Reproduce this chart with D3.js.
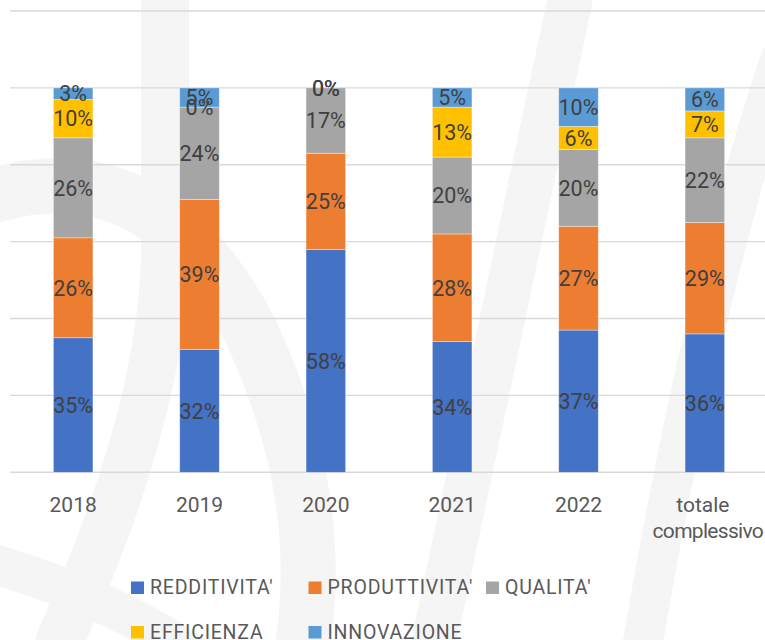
<!DOCTYPE html>
<html>
<head>
<meta charset="utf-8">
<script src="https://cdn.jsdelivr.net/npm/d3@7"></script>
<style>
    body { margin: 0; background: #ffffff; }
    svg { display: block; }
</style>
</head>
<body>
<div id="chart"></div>
<script>
var categories = ['2018', '2019', '2020', '2021', '2022', 'totale complessivo'];
var seriesNames = ["REDDITIVITA'", "PRODUTTIVITA'", "QUALITA'", "EFFICIENZA", "INNOVAZIONE"];
var seriesColors = ['#4472C4', '#ED7D31', '#A5A5A5', '#FFC000', '#5B9BD5'];

// percent share per category, same order as seriesNames
var redditivita  = [35, 32, 58, 34, 37, 36];
var produttivita = [26, 39, 25, 28, 27, 29];
var qualita      = [26, 24, 17, 20, 20, 22];
var efficienza   = [10,  0,  0, 13,  6,  7];
var innovazione  = [ 3,  5,  0,  5, 10,  6];

var yTicks = [0, 20, 40, 60, 80, 100, 120];

var width = 765, height = 640;
var font = 'Roboto, "Open Sans", sans-serif';

var svg = d3.select('#chart').append('svg')
        .attr('width', width)
        .attr('height', height);

// faint watermark behind the plot
var mark = svg.append('g').attr('class', 'watermark')
        .attr('fill', 'none')
        .attr('stroke', '#f5f5f5')
        .attr('stroke-linecap', 'round');
mark.append('path').attr('d', 'M165,0 L165,260 Q160,420 60,640').attr('stroke-width', 48);
mark.append('path').attr('d', 'M-20,200 Q150,140 250,330 Q330,500 300,660').attr('stroke-width', 55);
mark.append('path').attr('d', 'M570,0 L430,660').attr('stroke-width', 45);
mark.append('path').attr('d', 'M780,60 Q700,300 640,660').attr('stroke-width', 40);
mark.append('path').attr('d', 'M-20,560 Q120,600 200,660').attr('stroke-width', 40);

var x = d3.scaleBand()
        .domain(categories)
        .range([10, 768])
        .paddingInner(0.687)
        .paddingOuter(0.3435);

var y = d3.scaleLinear()
        .domain([0, 120])
        .range([472.3, 11]);

// gridlines
svg.append('g').attr('class', 'grid')
        .selectAll('line')
        .data(yTicks)
        .enter().append('line')
        .attr('x1', 10)
        .attr('x2', width)
        .attr('y1', function(d){ return y(d); })
        .attr('y2', function(d){ return y(d); })
        .attr('stroke', '#d9d9d9')
        .attr('stroke-width', 1.4);

var rows = categories.map(function(c, i){
    return {
        cat: c,
        s0: redditivita[i],
        s1: produttivita[i],
        s2: qualita[i],
        s3: efficienza[i],
        s4: innovazione[i]
    };
});

var stack = d3.stack().keys(['s0', 's1', 's2', 's3', 's4']);
var layers = stack(rows);

var bars = svg.append('g').attr('class', 'bars');

layers.forEach(function(layer, li){
    bars.selectAll('.seg-' + li)
            .data(layer)
            .enter().append('rect')
            .attr('class', 'seg-' + li)
            .attr('x', function(d){ return x(d.data.cat); })
            .attr('width', x.bandwidth())
            .attr('y', function(d){ return y(d[1]); })
            .attr('height', function(d){ return y(d[0]) - y(d[1]); })
            .attr('fill', seriesColors[li])
            .attr('stroke', '#ffffff')
            .attr('stroke-opacity', 0.5)
            .attr('stroke-width', 0.7);
});

// data labels
var labels = svg.append('g').attr('class', 'data-labels');
layers.forEach(function(layer, li){
    labels.selectAll('.lbl-' + li)
            .data(layer)
            .enter().append('text')
            .attr('x', function(d){ return x(d.data.cat) + x.bandwidth() / 2; })
            .attr('y', function(d){ return (y(d[0]) + y(d[1])) / 2; })
            .attr('dy', '0.36em')
            .attr('text-anchor', 'middle')
            .style('font', '21.5px ' + font)
            .attr('fill', '#404040')
            .text(function(d){ return (d[1] - d[0]) + '%'; });
});

// category axis labels
var xLabels = svg.append('g').attr('class', 'x-labels')
        .style('font', '21px ' + font)
        .attr('fill', '#595959')
        .attr('text-anchor', 'middle');

categories.forEach(function(c){
    var cx = x(c) + x.bandwidth() / 2;
    var parts = c.split(' ');
    var t = xLabels.append('text')
            .attr('x', cx)
            .attr('y', 512);
    if (parts.length == 1) {
        t.text(c);
    } else {
        t.append('tspan').attr('x', cx - 2).attr('y', 512).text(parts[0]);
        t.append('tspan').attr('x', cx + 3).attr('y', 538)
                .style('letter-spacing', '-0.7px')
                .text(parts[1]);
    }
});

// legend
var legendPos = [[131, 581.5], [308.5, 581.5], [486, 581.5], [131, 626], [308.5, 626]];
var legend = svg.append('g').attr('class', 'legend');
seriesNames.forEach(function(name, i){
    var p = legendPos[i];
    legend.append('rect')
            .attr('x', p[0])
            .attr('y', p[1])
            .attr('width', 13)
            .attr('height', 12.5)
            .attr('fill', seriesColors[i]);
    legend.append('text')
            .attr('x', p[0] + 19)
            .attr('y', p[1] + 12.5)
            .style('font', '19.5px ' + font)
            .style('letter-spacing', '0.8px')
            .attr('fill', '#595959')
            .text(name);
});
</script>
</body>
</html>
